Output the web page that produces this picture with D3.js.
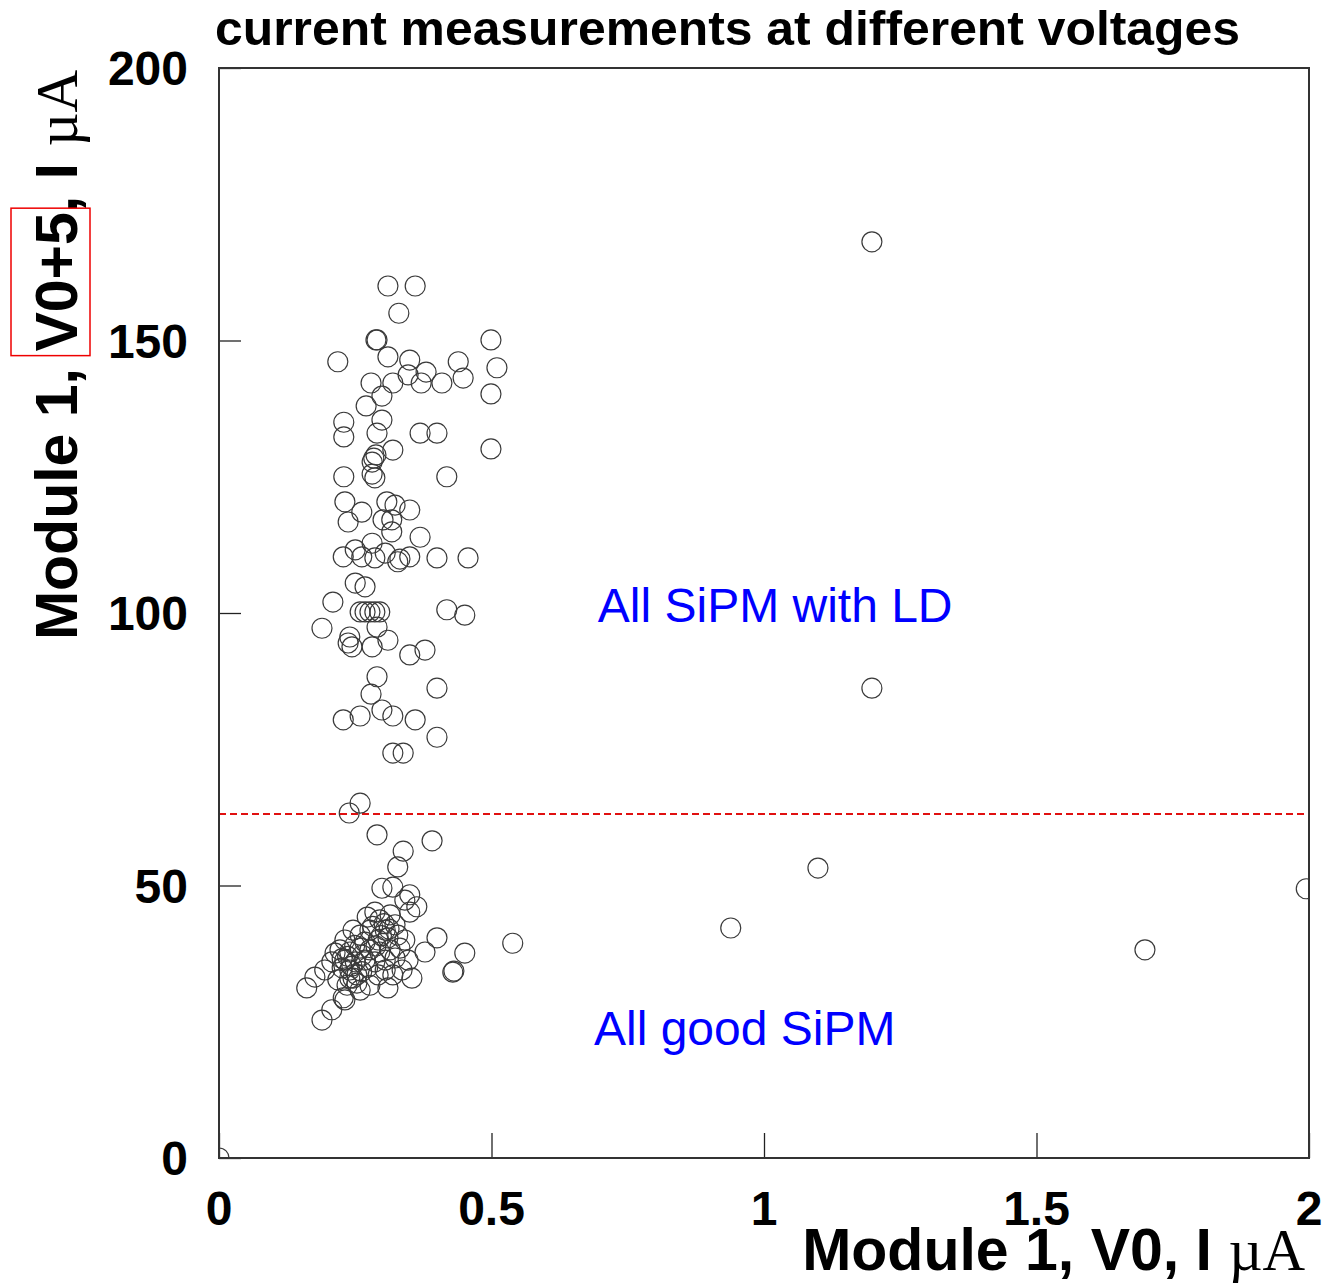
<!DOCTYPE html>
<html>
<head>
<meta charset="utf-8">
<script src="https://cdn.jsdelivr.net/npm/d3@7"></script>
<style>
  body { margin: 0; background: #fff; }
  svg { display: block; }
</style>
</head>
<body>
<svg id="chart" width="1341" height="1285"></svg>
<script>
// Module 1 currents: [I at V0, I at V0+5], in uA
var sipmWithLD = [
  [0.310,160.0],[0.360,160.0],[0.330,155.0],[0.288,150.1],[0.290,150.1],[0.499,150.1],
  [0.218,146.1],[0.310,147.0],[0.350,146.4],[0.439,146.1],[0.380,144.2],[0.510,145.0],
  [0.279,142.2],[0.319,142.2],[0.347,143.7],[0.371,142.2],[0.409,142.2],[0.448,143.1],
  [0.499,140.2],[0.299,139.8],[0.270,138.0],[0.229,135.0],[0.229,132.3],[0.299,135.4],
  [0.290,133.0],[0.369,133.0],[0.400,133.0],[0.499,130.1],[0.284,128.4],[0.281,127.7],
  [0.288,129.0],[0.319,129.9],[0.229,125.0],[0.286,124.8],[0.281,125.5],[0.418,125.0],
  [0.231,120.4],[0.262,118.5],[0.308,120.4],[0.323,119.8],[0.350,118.9],[0.301,117.1],
  [0.317,117.1],[0.237,116.7],[0.317,114.9],[0.369,113.9],[0.281,112.8],[0.250,111.6],
  [0.228,110.3],[0.262,110.3],[0.286,110.1],[0.305,111.0],[0.328,109.4],[0.332,109.9],
  [0.350,110.3],[0.400,110.1],[0.457,110.1],[0.250,105.5],[0.268,104.8],[0.209,102.0],
  [0.259,100.2],[0.268,100.2],[0.277,100.2],[0.286,100.2],[0.295,100.2],[0.418,100.6],
  [0.451,99.6],[0.189,97.2],[0.290,97.4],[0.237,94.5],[0.240,95.6],[0.244,93.8],
  [0.281,93.8],[0.310,95.0],[0.350,92.3],[0.378,93.2],[0.290,88.3],[0.400,86.2],
  [0.279,85.1],[0.228,80.4],[0.259,81.1],[0.299,82.2],[0.319,81.1],[0.360,80.4],
  [0.400,77.2],[0.319,74.3],[0.338,74.3]
];

var goodSipm = [
  [0.239,63.3],[0.259,65.1],[0.290,59.3],[0.391,58.2],[0.338,56.3],[0.328,53.4],
  [0.319,49.7],[0.299,49.5],[0.350,48.3],[0.341,47.3],[0.363,46.1],[0.350,45.1],
  [0.272,44.2],[0.295,43.7],[0.286,45.1],[0.314,44.6],[0.323,42.8],[0.305,41.8],
  [0.277,41.8],[0.259,40.9],[0.246,41.8],[0.231,40.0],[0.268,39.6],[0.292,40.0],
  [0.310,40.4],[0.328,40.9],[0.341,40.0],[0.332,38.5],[0.314,38.2],[0.295,37.8],
  [0.277,38.2],[0.259,38.5],[0.240,37.8],[0.222,38.2],[0.213,37.6],[0.231,36.3],
  [0.250,36.0],[0.268,36.3],[0.286,36.0],[0.305,36.3],[0.323,36.7],[0.347,36.3],
  [0.273,35.0],[0.336,34.5],[0.354,33.0],[0.240,34.5],[0.226,34.9],[0.253,33.6],
  [0.240,33.0],[0.218,32.7],[0.253,32.1],[0.235,31.7],[0.310,31.2],[0.292,33.6],
  [0.305,34.5],[0.319,33.6],[0.161,31.2],[0.176,33.2],[0.194,34.5],[0.207,36.0],
  [0.228,29.4],[0.231,29.0],[0.207,27.2],[0.189,25.3],[0.400,40.4],[0.378,37.8],
  [0.451,37.6],[0.429,34.1],[0.431,34.3],[0.539,39.4],[0.259,30.8],[0.277,31.7],
  [0.244,35.2],[0.236,37.0],[0.249,39.0],[0.263,37.2],[0.282,42.5],[0.298,40.8],
  [0.288,38.9],[0.303,43.0],[0.312,42.0],[0.226,36.6],[0.246,33.0],[0.262,34.2]
];

var outliers = [
  [1.198,168.1],[1.198,86.2],[1.099,53.2],[0.939,42.2],[1.699,38.2],[1.995,49.4],[0,0]
];

var xTicks = [0, 0.5, 1, 1.5, 2];
var yTicks = [0, 50, 100, 150, 200];
var cutLevel = 63.1;

var labels = [
  { text: "All SiPM with LD", x: 0.695, y: 98.3 },
  { text: "All good SiPM", x: 0.688, y: 20.7 }
];

var svg = d3.select("#chart");
var margin = { top: 68, right: 32, bottom: 127, left: 219 };
var width = 1341 - margin.left - margin.right;
var height = 1285 - margin.top - margin.bottom;

var x = d3.scaleLinear().domain([0, 2]).range([0, width]);
var y = d3.scaleLinear().domain([0, 200]).range([height, 0]);

var g = svg.append("g").attr("transform", `translate(${margin.left},${margin.top})`);

g.append("clipPath").attr("id", "plotClip")
  .append("rect").attr("width", width).attr("height", height);

// inward ticks, labels placed by hand below
g.append("g")
  .attr("transform", `translate(0,${height})`)
  .call(d3.axisBottom(x).tickValues(xTicks).tickSize(-25).tickFormat(""))
  .call((a) => a.select(".domain").remove())
  .selectAll("line").attr("stroke", "#222").attr("stroke-width", 1.3);

g.append("g")
  .call(d3.axisLeft(y).tickValues(yTicks).tickSize(-22).tickFormat(""))
  .call((a) => a.select(".domain").remove())
  .selectAll("line").attr("stroke", "#222").attr("stroke-width", 1.3);

g.selectAll("text.xlab")
  .data(xTicks)
  .join("text")
  .attr("class", "xlab")
  .attr("x", (d) => x(d))
  .attr("y", height + 67)
  .attr("text-anchor", "middle")
  .style("font", "bold 48px 'Liberation Sans', Arial, sans-serif")
  .text((d) => d3.format("~g")(d));

g.selectAll("text.ylab")
  .data(yTicks)
  .join("text")
  .attr("class", "ylab")
  .attr("x", -31)
  .attr("y", (d) => y(d) + 17)
  .attr("text-anchor", "end")
  .style("font", "bold 48px 'Liberation Sans', Arial, sans-serif")
  .text((d) => d);

// red dashed cut line
g.append("line")
  .attr("x1", 0).attr("x2", width)
  .attr("y1", y(cutLevel)).attr("y2", y(cutLevel))
  .attr("stroke", "#e01010")
  .attr("stroke-width", 2)
  .attr("stroke-dasharray", "7,4");

var allPoints = sipmWithLD.concat(goodSipm, outliers);

g.append("g")
  .attr("clip-path", "url(#plotClip)")
  .selectAll("circle")
  .data(allPoints)
  .join("circle")
  .attr("cx", (d) => x(d[0]))
  .attr("cy", (d) => y(d[1]))
  .attr("r", 10)
  .attr("fill", "none")
  .attr("stroke", "#3a3a3a")
  .attr("stroke-width", 1.2);

// frame
g.append("rect")
  .attr("width", width).attr("height", height)
  .attr("fill", "none")
  .attr("stroke", "#333")
  .attr("stroke-width", 2);

g.selectAll("text.note")
  .data(labels)
  .join("text")
  .attr("class", "note")
  .attr("x", (d) => x(d.x))
  .attr("y", (d) => y(d.y))
  .attr("fill", "#0000ff")
  .style("font", "48px 'Liberation Sans', Arial, sans-serif")
  .text((d) => d.text);

// title
svg.append("text")
  .attr("x", 215)
  .attr("y", 45)
  .attr("textLength", 1025)
  .attr("lengthAdjust", "spacingAndGlyphs")
  .style("font", "bold 48px 'Liberation Sans Narrow', 'Liberation Sans', sans-serif")
  .text("current measurements at different voltages");

// x axis title
var xt = svg.append("text")
  .attr("x", 1305)
  .attr("y", 1270)
  .attr("text-anchor", "end");
xt.append("tspan")
  .style("font", "bold 59px 'Liberation Sans', Arial, sans-serif")
  .text("Module 1, V0, I ");
xt.append("tspan")
  .style("font", "59px 'Liberation Serif', 'Times New Roman', serif")
  .text("\u00b5A");

// y axis title, rotated, with a red box around "V0+5"
var yg = svg.append("g").attr("transform", "translate(77,70) rotate(-90)");
var yt = yg.append("text").attr("x", 0).attr("y", 0).attr("text-anchor", "end");
yt.append("tspan")
  .style("font", "bold 59px 'Liberation Sans', Arial, sans-serif")
  .text("Module 1, V0+5, I ");
yt.append("tspan")
  .style("font", "59px 'Liberation Serif', 'Times New Roman', serif")
  .text("\u00b5A");

var node = yt.node();
var full = node.textContent;
var start = full.indexOf("V0+5");
var e0 = node.getExtentOfChar(start);
var e1 = node.getExtentOfChar(start + 3);
yg.append("rect")
  .attr("x", e0.x - 4)
  .attr("y", e0.y - 13)
  .attr("width", e1.x + e1.width - e0.x + 8)
  .attr("height", e0.height + 13)
  .attr("fill", "none")
  .attr("stroke", "#ee0000")
  .attr("stroke-width", 1.5);
</script>
</body>
</html>
